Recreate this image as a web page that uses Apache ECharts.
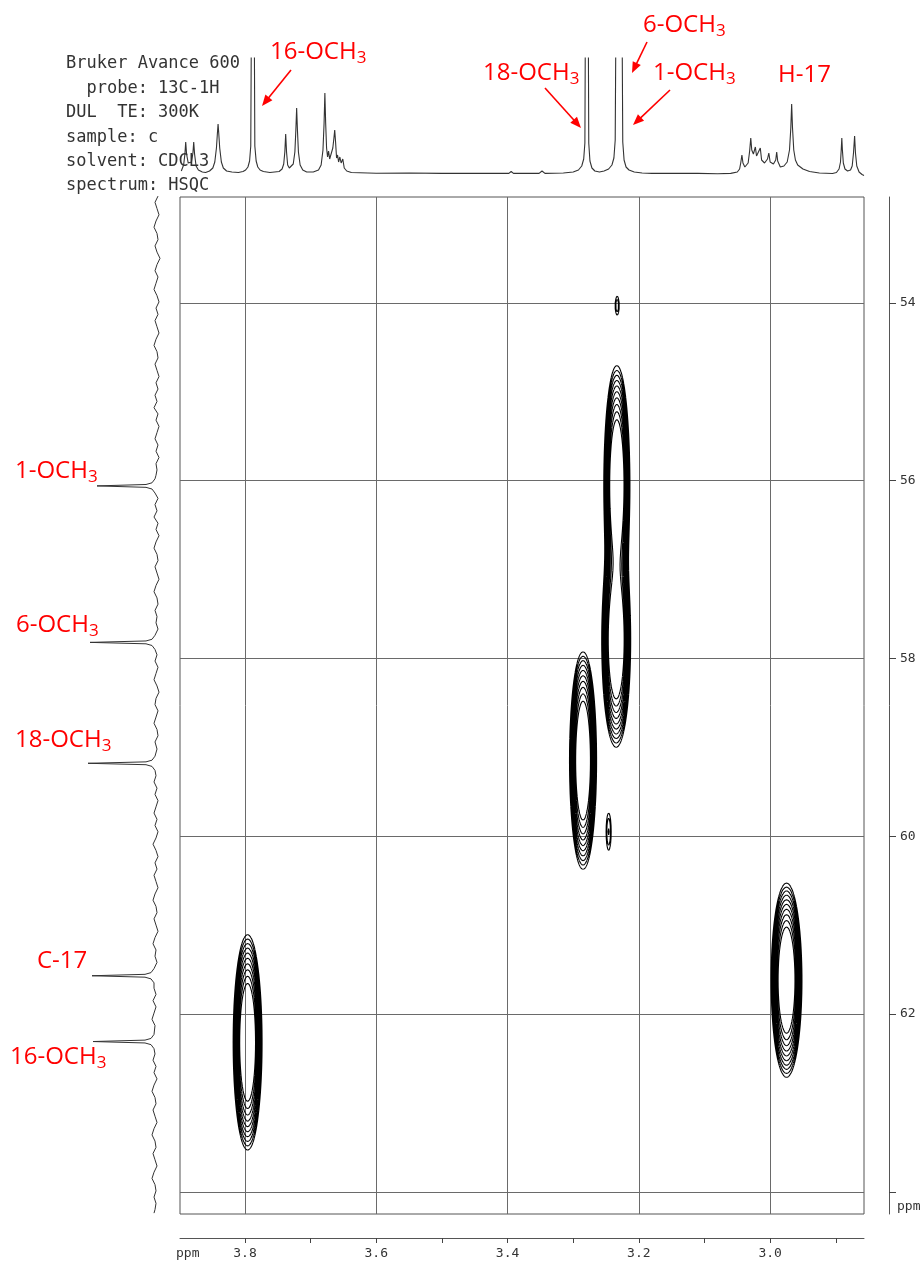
<!DOCTYPE html>
<html><head><meta charset="utf-8">
<script src="https://cdn.jsdelivr.net/npm/echarts@6/dist/echarts.min.js"></script>
<style>html,body{margin:0;padding:0;background:#fff}#c{width:923px;height:1265px}</style>
</head><body><div id="c"></div>
<script>
// ---------- axis ranges and ticks ----------
const H_MIN = 2.857, H_MAX = 3.899;      // 1H ppm (x)
const C_MIN = 52.81, C_MAX = 64.25;      // 13C ppm (y)
const xTickValues = [2.9, 3.0, 3.1, 3.2, 3.3, 3.4, 3.5, 3.6, 3.7, 3.8];
const xLabelValues = [3.0, 3.2, 3.4, 3.6, 3.8];
const xGridValues = [3.0, 3.2, 3.4, 3.6, 3.8];
const yTickValues = [54, 56, 58, 60, 62, 64];
const yLabelValues = [54, 56, 58, 60, 62];

// ---------- HSQC cross peaks ----------
const hsqcPeakH  = [3.796, 3.285, 3.2335, 3.2345, 2.975, 3.233, 3.246];
const hsqcPeakC  = [62.32, 59.15, 56.05, 57.80, 61.62, 54.03, 59.95];
const hsqcWidthH = [0.0092, 0.0086, 0.0083, 0.0092, 0.0098, 0.0034, 0.0040];
const hsqcWidthC = [0.505, 0.51, 0.56, 0.50, 0.455, 0.113, 0.215];
const hsqcHeight = [17.6, 17.6, 17.6, 17.6, 17.6, 1.5, 1.6];
const contourLevels = [1.00, 1.25, 1.56, 1.95, 2.44, 3.05, 3.81, 4.77, 5.96, 7.45];

// ---------- 1H projection trace [ppm, intensity] ----------
const protonTrace = [
[3.897,7],[3.8935,13],[3.8915,24],[3.8903,36],[3.8890,24],[3.8865,15],[3.8840,14],[3.8815,16],[3.8793,25],[3.8781,36],[3.8768,24],[3.8745,12],[3.8710,8],[3.8650,6],[3.8600,5.5],
[3.8540,7],[3.8490,10],[3.8460,16],[3.8435,30],[3.8420,45],[3.8410,54],[3.8400,45],[3.8385,30],[3.8360,16],[3.8330,10],[3.8280,7],[3.8200,6],[3.8100,5.5],[3.8030,6.5],
[3.7990,8],[3.7955,11],[3.7930,17],[3.7912,32],[3.7903,150],[3.7858,150],[3.7850,32],[3.7830,17],[3.7805,11],[3.7770,8],[3.7720,6.5],[3.7620,5.5],
[3.7480,6.5],[3.7435,9],[3.7410,14],[3.7393,26],[3.7380,44],[3.7367,26],[3.7350,13],[3.7325,10],[3.7295,10],[3.7265,14],[3.7240,26],[3.7225,48],[3.7213,70],[3.7201,48],[3.7186,26],[3.7160,13],[3.7120,8],[3.7060,6],[3.6960,6],
[3.6880,8],[3.6840,13],[3.6812,28],[3.6795,55],[3.6783,85],[3.6771,55],[3.6757,30],[3.6742,21],[3.6727,27],[3.6710,19],[3.6690,21],[3.6662,30],[3.6645,40],[3.6633,48],[3.6620,36],[3.6605,20],[3.6590,23],[3.6574,16],[3.6555,21],[3.6535,15],[3.6510,19],[3.6488,10],[3.6450,7],[3.6380,5.5],
[3.6000,4.8],[3.5500,5],[3.5000,4.6],[3.4500,4.6],[3.3980,4.6],[3.3945,6.5],[3.3910,4.6],[3.3520,4.6],[3.3475,7],[3.3430,4.6],[3.3150,5],
[3.3000,6],[3.2920,8],[3.2870,12],[3.2840,19],[3.2822,35],[3.2815,150],[3.2770,150],[3.2763,35],[3.2745,17],[3.2715,10],[3.2670,7],[3.2600,6],[3.2530,7],[3.2460,9],[3.2410,13],[3.2380,20],[3.2360,38],[3.2350,150],[3.2255,150],[3.2245,36],[3.2225,18],[3.2195,11],[3.2150,8],[3.2070,6],[3.1950,5],
[3.1800,4.6],[3.1610,4.6],[3.1580,6],[3.1550,4.6],[3.1160,4.6],[3.1130,6.5],[3.1100,4.6],[3.0800,4.2],[3.0600,4.6],
[3.0500,6],[3.0465,9],[3.0448,15],[3.0430,23],[3.0414,15],[3.0385,11],[3.0335,15],[3.0312,27],[3.0295,40],[3.0280,28],[3.0255,24],[3.0225,31],[3.0207,22],[3.0180,22],[3.0150,30],[3.0130,18],[3.0085,15],[3.0040,19],[3.0020,25],[3.0000,16],[2.9950,14],[2.9915,18],[2.9900,26],[2.9885,17],[2.9845,11],[2.9790,12],[2.9740,16],[2.9705,28],[2.9685,50],[2.9672,74],[2.9659,50],[2.9640,28],[2.9615,18],[2.9580,13],[2.9500,9],[2.9400,6.5],[2.9250,5],[2.9050,4.5],
[2.8990,5.5],[2.8950,9],[2.8928,16],[2.8917,28],[2.8908,40],[2.8899,28],[2.8885,15],[2.8860,9],[2.8820,7],[2.8775,8],[2.8750,12],[2.8730,25],[2.8713,42],[2.8700,25],[2.8680,12],[2.8645,6],[2.8600,3.5],[2.8570,2.5]
];

// ---------- 13C projection trace [ppm, intensity] ----------
const carbonTrace = [
[52.80,12],[52.87,15],[52.94,13],[53.01,11],[53.08,14],[53.15,16],[53.22,13],[53.29,12],[53.36,15],[53.43,13],[53.50,10],[53.57,13],[53.64,15],[53.71,12],[53.78,14],[53.85,16],[53.92,13],[53.99,11],[54.06,14],[54.13,12],[54.20,15],[54.27,13],[54.34,11],[54.41,14],[54.48,16],[54.55,13],[54.62,12],[54.69,15],[54.76,13],[54.83,11],[54.90,14],[54.97,12],[55.04,15],[55.11,13],[55.18,16],[55.25,12],[55.32,14],[55.39,11],[55.46,13],[55.53,15],[55.60,12],[55.67,14],[55.74,11],[55.81,14],[55.88,13],[55.94,14],
[55.98,15],[56.025,18],[56.044,24],[56.06,73],[56.076,24],[56.095,18],[56.14,15],
[56.20,12],[56.27,15],[56.34,13],[56.41,16],[56.48,12],[56.55,14],[56.62,11],[56.69,14],[56.76,16],[56.83,13],[56.90,12],[56.97,15],[57.04,13],[57.11,11],[57.18,14],[57.25,16],[57.32,13],[57.39,12],[57.46,15],[57.53,13],[57.60,14],[57.67,12],
[57.74,15],[57.785,18],[57.804,24],[57.82,80],[57.836,24],[57.855,18],[57.90,15],
[57.96,13],[58.03,15],[58.10,12],[58.17,14],[58.24,16],[58.31,13],[58.38,11],[58.45,14],[58.52,15],[58.59,12],[58.66,14],[58.73,16],[58.80,13],[58.87,12],[58.94,15],[59.02,13],
[59.10,15],[59.145,18],[59.164,24],[59.18,82],[59.196,24],[59.215,18],[59.26,15],
[59.32,14],[59.39,16],[59.46,13],[59.53,15],[59.60,12],[59.67,14],[59.74,16],[59.81,13],[59.88,15],[59.95,12],[60.02,14],[60.09,17],[60.16,14],[60.23,12],[60.30,15],[60.37,13],[60.44,16],[60.51,14],[60.58,12],[60.65,15],[60.72,17],[60.79,14],[60.86,13],[60.93,16],[61.00,14],[61.07,12],[61.14,15],[61.21,17],[61.28,14],[61.35,15],[61.42,13],
[61.49,16],[61.535,19],[61.554,25],[61.57,78],[61.586,25],[61.605,19],[61.65,16],
[61.71,16],[61.78,14],[61.85,17],[61.92,14],[61.99,16],[62.06,18],[62.13,15],
[62.23,16],[62.275,19],[62.294,25],[62.31,77],[62.326,25],[62.345,19],[62.39,16],
[62.45,15],[62.52,17],[62.59,14],[62.66,16],[62.73,13],[62.80,16],[62.87,18],[62.94,15],[63.01,14],[63.08,17],[63.15,15],[63.22,13],[63.29,16],[63.36,18],[63.43,15],[63.50,14],[63.57,17],[63.64,15],[63.71,13],[63.78,16],[63.85,18],[63.92,15],[63.99,14],[64.06,16],[64.13,14],[64.20,15],[64.24,16]
];

// ---------- header text ----------
const headerLines = ['Bruker Avance 600', '  probe: 13C-1H', 'DUL  TE: 300K', 'sample: c', 'solvent: CDCL3', 'spectrum: HSQC'];

// ---------- build contour segments (marching squares over the peak model) ----------
const DX = 0.001, DY = 0.07;
const nx = Math.round((H_MAX - H_MIN) / DX) + 1;
const ny = Math.round((C_MAX - C_MIN) / DY) + 1;
const xs = new Float64Array(nx), ys = new Float64Array(ny);
for (let i = 0; i < nx; i++) xs[i] = H_MIN + i * DX;
for (let j = 0; j < ny; j++) ys[j] = C_MIN + j * DY;
const field = new Float64Array(nx * ny);
for (let p = 0; p < hsqcPeakH.length; p++) {
  const h = hsqcPeakH[p], c = hsqcPeakC[p], sx = hsqcWidthH[p], sy = hsqcWidthC[p], A = hsqcHeight[p];
  const i0 = Math.max(0, Math.floor((h - 6 * sx - H_MIN) / DX)), i1 = Math.min(nx - 1, Math.ceil((h + 6 * sx - H_MIN) / DX));
  const j0 = Math.max(0, Math.floor((c - 6 * sy - C_MIN) / DY)), j1 = Math.min(ny - 1, Math.ceil((c + 6 * sy - C_MIN) / DY));
  for (let j = j0; j <= j1; j++) {
    const dy = (ys[j] - c) / sy, ey = Math.exp(-0.5 * dy * dy);
    for (let i = i0; i <= i1; i++) {
      const dx = (xs[i] - h) / sx;
      field[j * nx + i] += A * Math.exp(-0.5 * dx * dx) * ey;
    }
  }
}
const segs = [];
function lerp(a, b, va, vb, L) { return a + (b - a) * (L - va) / (vb - va); }
for (const L of contourLevels) {
  for (let j = 0; j < ny - 1; j++) {
    for (let i = 0; i < nx - 1; i++) {
      const v0 = field[j * nx + i], v1 = field[j * nx + i + 1], v2 = field[(j + 1) * nx + i + 1], v3 = field[(j + 1) * nx + i];
      const k = (v0 >= L ? 1 : 0) | (v1 >= L ? 2 : 0) | (v2 >= L ? 4 : 0) | (v3 >= L ? 8 : 0);
      if (k === 0 || k === 15) continue;
      const x0 = xs[i], x1 = xs[i + 1], y0 = ys[j], y1 = ys[j + 1];
      const e = [
        () => [lerp(x0, x1, v0, v1, L), y0],
        () => [x1, lerp(y0, y1, v1, v2, L)],
        () => [lerp(x1, x0, v2, v3, L), y1],
        () => [x0, lerp(y1, y0, v3, v0, L)]
      ];
      const add = (a, b) => segs.push({ coords: [e[a](), e[b]()] });
      switch (k) {
        case 1: case 14: add(3, 0); break;
        case 2: case 13: add(0, 1); break;
        case 3: case 12: add(3, 1); break;
        case 4: case 11: add(1, 2); break;
        case 5: add(3, 0); add(1, 2); break;
        case 6: case 9: add(0, 2); break;
        case 7: case 8: add(3, 2); break;
        case 10: add(0, 1); add(2, 3); break;
      }
    }
  }
}

// ---------- annotations ----------
const RED = '#ff0000';
function arrow(x1, y1, x2, y2) {
  const dx = x2 - x1, dy = y2 - y1, Ln = Math.hypot(dx, dy), ux = dx / Ln, uy = dy / Ln;
  const hl = 11, hw = 4.5, bx = x2 - ux * hl, by = y2 - uy * hl;
  return [
    { type: 'line', shape: { x1: x1, y1: y1, x2: bx + ux * 2, y2: by + uy * 2 }, style: { stroke: RED, lineWidth: 1.6 } },
    { type: 'polygon', shape: { points: [[x2, y2], [bx - uy * hw, by + ux * hw], [bx + uy * hw, by - ux * hw]] }, style: { fill: RED } }
  ];
}
function redLabel(x, y, main, sub) {
  return {
    type: 'text', x: x, y: y,
    style: {
      text: sub ? '{a|' + main + '}{s|' + sub + '}' : '{a|' + main + '}',
      verticalAlign: 'middle', align: 'left',
      rich: {
        a: { fontFamily: 'Open Sans', fontSize: 24, fill: RED, lineHeight: 30 },
        s: { fontFamily: 'Open Sans', fontSize: 17, fill: RED, lineHeight: 20, verticalAlign: 'bottom' }
      }
    }
  };
}
const graphics = [];
headerLines.forEach((t, k) => graphics.push({
  type: 'text', x: 66, y: 64 + k * 24.4,
  style: { text: t, fill: '#333', font: '17px "DejaVu Sans Mono"', verticalAlign: 'middle', align: 'left' }
}));
graphics.push(redLabel(270, 52, '16-OCH', '3'));
graphics.push(redLabel(483, 73, '18-OCH', '3'));
graphics.push(redLabel(643, 25, '6-OCH', '3'));
graphics.push(redLabel(653, 73, '1-OCH', '3'));
graphics.push(redLabel(778, 75, 'H-17', ''));
graphics.push(redLabel(15, 471, '1-OCH', '3'));
graphics.push(redLabel(16, 625, '6-OCH', '3'));
graphics.push(redLabel(15, 740, '18-OCH', '3'));
graphics.push(redLabel(37, 961, 'C-17', ''));
graphics.push(redLabel(10, 1057, '16-OCH', '3'));
graphics.push(...arrow(291, 70, 262, 106));
graphics.push(...arrow(545, 88, 581, 128));
graphics.push(...arrow(647, 42, 632, 73));
graphics.push(...arrow(670, 90, 633, 125));
graphics.push({ type: 'text', x: 176, y: 1254, style: { text: 'ppm', fill: '#333', font: '13px "DejaVu Sans Mono"', verticalAlign: 'middle', align: 'left' } });
graphics.push({ type: 'text', x: 897, y: 1207, style: { text: 'ppm', fill: '#333', font: '13px "DejaVu Sans Mono"', verticalAlign: 'middle', align: 'left' } });

// ---------- chart ----------
const chart = echarts.init(document.getElementById('c'), null, { renderer: 'canvas' });
const monoLabel = { fontFamily: 'DejaVu Sans Mono', fontSize: 13, color: '#333' };
const hidden = { show: false };
const isFifth = v => Math.abs(v * 5 - Math.round(v * 5)) < 1e-6;
chart.setOption({
  animation: false,
  backgroundColor: '#fff',
  grid: [
    { left: 180, top: 197, width: 684, height: 1017, show: true, borderColor: '#555', borderWidth: 1, backgroundColor: 'transparent', outerBoundsMode: 'none', containLabel: false },
    { left: 70, top: 197, width: 100, height: 1017, outerBoundsMode: 'none', containLabel: false },
    { left: 180, top: 58, width: 684, height: 120, outerBoundsMode: 'none', containLabel: false }
  ],
  xAxis: [
    { gridIndex: 0, type: 'value', min: H_MIN, max: H_MAX, inverse: true, position: 'bottom', offset: 24, splitNumber: 10,
      axisLine: { show: true, lineStyle: { color: '#555', width: 1 } },
      axisTick: { show: true, inside: false, length: 5, customValues: xTickValues, lineStyle: { color: '#444' } },
      axisLabel: { show: true, margin: 9, customValues: xLabelValues, hideOverlap: false,
        formatter: v => isFifth(v) ? v.toFixed(1) : '', ...monoLabel },
      splitLine: hidden },
    { gridIndex: 0, type: 'value', min: H_MIN, max: H_MAX, inverse: true, position: 'top', splitNumber: 5,
      axisLine: hidden, axisTick: { show: false, customValues: xGridValues }, axisLabel: hidden,
      splitLine: { show: true, lineStyle: { color: '#6a6a6a', width: 1 } } },
    { gridIndex: 2, type: 'value', min: H_MIN, max: H_MAX, inverse: true, show: false },
    { gridIndex: 1, type: 'value', min: 0, max: 100, inverse: true, show: false }
  ],
  yAxis: [
    { gridIndex: 0, type: 'value', min: C_MIN, max: C_MAX, inverse: true, position: 'right', offset: 25, splitNumber: 6,
      axisLine: { show: true, lineStyle: { color: '#555', width: 1 } },
      axisTick: { show: true, inside: false, length: 7, customValues: yTickValues, lineStyle: { color: '#444' } },
      axisLabel: { show: true, margin: 11, customValues: yLabelValues, hideOverlap: false,
        formatter: v => (Math.abs(v - Math.round(v)) < 1e-6 && Math.round(v) % 2 === 0 && v < 63) ? String(Math.round(v)) : '', ...monoLabel },
      splitLine: { show: true, lineStyle: { color: '#6a6a6a', width: 1 } } },
    { gridIndex: 2, type: 'value', min: 0, max: 120, show: false },
    { gridIndex: 1, type: 'value', min: C_MIN, max: C_MAX, inverse: true, show: false }
  ],
  series: [
    { type: 'lines', coordinateSystem: 'cartesian2d', xAxisIndex: 0, yAxisIndex: 0, polyline: false,
      large: true, largeThreshold: 2000, progressive: 0, silent: true,
      lineStyle: { color: '#000', width: 1.1, opacity: 1 }, effect: { show: false },
      data: segs },
    { type: 'line', xAxisIndex: 2, yAxisIndex: 1, data: protonTrace, showSymbol: false, symbol: 'none', clip: true,
      lineStyle: { color: '#333', width: 1.1 }, silent: true },
    { type: 'line', xAxisIndex: 3, yAxisIndex: 2, data: carbonTrace.map(d => [d[1], d[0]]), showSymbol: false, symbol: 'none',
      clip: false, lineStyle: { color: '#333', width: 1 }, silent: true }
  ],
  graphic: graphics
});
</script></body></html>
